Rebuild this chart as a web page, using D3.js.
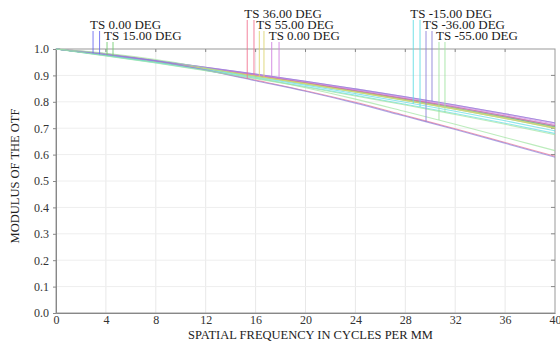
<!DOCTYPE html>
<html>
<head>
<meta charset="utf-8">
<script src="https://cdn.jsdelivr.net/npm/d3@7"></script>
<style>
  html, body { margin: 0; padding: 0; background: #fff; }
  svg { display: block; font-family: "Liberation Serif", "Times New Roman", serif; }
</style>
</head>
<body>
<svg id="chart" width="560" height="345"></svg>
<script>
// spatial frequency samples (cycles/mm)
const freqs = [0, 4, 8, 12, 16, 20, 24, 28, 32, 36, 40];

// field labels, in drawing order
const fieldLabels = [
  "TS 0.00 DEG", "TS 15.00 DEG", "TS 36.00 DEG", "TS 55.00 DEG",
  "TS 0.00 DEG", "TS -15.00 DEG", "TS -36.00 DEG", "TS -55.00 DEG"
];

// tangential MTF per field
const tangential = [
  [1, 0.978, 0.953, 0.928, 0.901, 0.873, 0.843, 0.812, 0.780, 0.746, 0.710],
  [1, 0.977, 0.952, 0.925, 0.897, 0.868, 0.837, 0.805, 0.772, 0.737, 0.700],
  [1, 0.982, 0.956, 0.921, 0.882, 0.842, 0.798, 0.748, 0.698, 0.646, 0.594],
  [1, 0.977, 0.952, 0.926, 0.898, 0.869, 0.838, 0.807, 0.774, 0.739, 0.702],
  [1, 0.978, 0.956, 0.931, 0.905, 0.878, 0.849, 0.819, 0.788, 0.755, 0.720],
  [1, 0.976, 0.950, 0.922, 0.893, 0.863, 0.831, 0.798, 0.764, 0.728, 0.690],
  [1, 0.982, 0.955, 0.920, 0.880, 0.840, 0.795, 0.745, 0.695, 0.643, 0.590],
  [1, 0.984, 0.960, 0.928, 0.892, 0.853, 0.810, 0.763, 0.715, 0.665, 0.615]
];

// sagittal MTF per field
const sagittal = [
  [1, 0.977, 0.953, 0.927, 0.899, 0.871, 0.840, 0.809, 0.776, 0.742, 0.705],
  [1, 0.977, 0.953, 0.927, 0.899, 0.871, 0.840, 0.809, 0.776, 0.742, 0.705],
  [1, 0.978, 0.953, 0.928, 0.901, 0.873, 0.843, 0.812, 0.780, 0.746, 0.710],
  [1, 0.977, 0.952, 0.925, 0.897, 0.868, 0.837, 0.805, 0.772, 0.737, 0.700],
  [1, 0.978, 0.955, 0.930, 0.903, 0.876, 0.846, 0.816, 0.784, 0.751, 0.715],
  [1, 0.975, 0.948, 0.919, 0.889, 0.858, 0.825, 0.791, 0.756, 0.719, 0.680],
  [1, 0.978, 0.956, 0.931, 0.905, 0.878, 0.849, 0.819, 0.788, 0.755, 0.720],
  [1, 0.974, 0.947, 0.918, 0.887, 0.856, 0.822, 0.788, 0.752, 0.715, 0.675]
];

// where each label's T/S marker lines sit (cycles/mm)
const markerT = [2.97, 4.09, 15.33, 16.30, 17.29, 28.64, 29.66, 30.70];
const markerS = [3.49, 4.57, 15.87, 16.67, 17.88, 29.18, 30.14, 31.18];

const xTicks = [0, 4, 8, 12, 16, 20, 24, 28, 32, 36, 40];
const yTicks = [0, 0.1, 0.2, 0.3, 0.4, 0.5, 0.6, 0.7, 0.8, 0.9, 1.0];

// styling
const colors = ["#6a6af0", "#70cc70", "#f07090", "#dcd470", "#d080e0", "#60dce4", "#8a80d8", "#a0e4a0"];
const labelRow = [1, 2, 0, 1, 2, 0, 1, 2];
const rowBaseline = [17.5, 28.5, 39.5];

const margin = { left: 56, right: 5, top: 49, bottom: 32 };
const W = 560, H = 345;
const svg = d3.select('#chart');

const x = d3.scaleLinear().domain([0, 40]).range([margin.left, W - margin.right]);
const y = d3.scaleLinear().domain([0, 1]).range([H - margin.bottom, margin.top]);

// grid
svg.append('g').selectAll('line')
  .data(xTicks.slice(1, -1))
  .enter().append('line')
  .attr('x1', d => x(d)).attr('x2', d => x(d))
  .attr('y1', y(0)).attr('y2', y(1))
  .attr('stroke', '#e8e8e8');
svg.append('g').selectAll('line')
  .data(yTicks.slice(1, -1))
  .enter().append('line')
  .attr('x1', x(0)).attr('x2', x(40))
  .attr('y1', d => y(d)).attr('y2', d => y(d))
  .attr('stroke', '#eeeeee');

// frame
svg.append('rect')
  .attr('x', x(0)).attr('y', y(1))
  .attr('width', x(40) - x(0)).attr('height', y(0) - y(1))
  .attr('fill', 'none').attr('stroke', '#999');

// axes
const xAxis = svg.append('g')
  .attr('transform', `translate(0,${y(0)})`)
  .call(d3.axisBottom(x).tickValues(xTicks).tickSize(0).tickPadding(2));
const yAxis = svg.append('g')
  .attr('transform', `translate(${x(0)},0)`)
  .call(d3.axisLeft(y).tickValues(yTicks).tickSize(3).tickPadding(4).tickFormat(d3.format('.1f')));
[xAxis, yAxis].forEach(a => {
  a.select('.domain').attr('stroke', '#888');
  a.selectAll('.tick line').attr('stroke', '#888');
  a.selectAll('text').attr('font-family', '"Liberation Serif", serif')
    .attr('font-size', 12).attr('fill', '#333');
});

// inner ticks on top and right
svg.append('g').selectAll('line')
  .data(xTicks.slice(1, -1))
  .enter().append('line')
  .attr('x1', d => x(d)).attr('x2', d => x(d))
  .attr('y1', y(1)).attr('y2', y(1) + 3)
  .attr('stroke', '#888');
svg.append('g').selectAll('line')
  .data(yTicks.slice(1, -1))
  .enter().append('line')
  .attr('x1', x(40) - 4).attr('x2', x(40))
  .attr('y1', d => y(d)).attr('y2', d => y(d))
  .attr('stroke', '#888');

// axis titles
svg.append('text')
  .attr('x', (x(0) + x(40)) / 2 + 5).attr('y', 339)
  .attr('text-anchor', 'middle')
  .attr('font-size', 12.5).attr('fill', '#222')
  .text('SPATIAL FREQUENCY IN CYCLES PER MM');
svg.append('text')
  .attr('transform', `translate(19,176) rotate(-90)`)
  .attr('text-anchor', 'middle')
  .attr('font-size', 12.5).attr('fill', '#222')
  .text('MODULUS OF THE OTF');

// curves
const line = d3.line()
  .x((d, i) => x(freqs[i]))
  .y(d => y(d))
  .curve(d3.curveMonotoneX);

const curves = svg.append('g');
fieldLabels.forEach((lab, i) => {
  [sagittal[i], tangential[i]].forEach(vals => {
    curves.append('path')
      .attr('d', line(vals))
      .attr('fill', 'none')
      .attr('stroke', colors[i])
      .attr('stroke-opacity', 0.7)
      .attr('stroke-width', 1.1);
  });
});

// value of a series at an arbitrary frequency
function valueAt(vals, f) {
  const i = Math.min(Math.floor(f / 4), freqs.length - 2);
  const t = (f - freqs[i]) / (freqs[i + 1] - freqs[i]);
  return vals[i] + (vals[i + 1] - vals[i]) * t;
}

// labels with marker lines
const labels = svg.append('g');
fieldLabels.forEach((lab, i) => {
  const base = rowBaseline[labelRow[i]];
  [[markerT[i], tangential[i]], [markerS[i], sagittal[i]]].forEach(([f, vals]) => {
    labels.append('line')
      .attr('x1', x(f)).attr('x2', x(f))
      .attr('y1', base + 2.5).attr('y2', y(valueAt(vals, f)))
      .attr('stroke', colors[i])
      .attr('stroke-opacity', 0.8)
      .attr('stroke-width', 1.1);
  });
  labels.append('text')
    .attr('x', x(markerT[i]) - 3).attr('y', base)
    .attr('font-size', 13).attr('fill', '#1a1a1a')
    .text(lab);
});
</script>
</body>
</html>
